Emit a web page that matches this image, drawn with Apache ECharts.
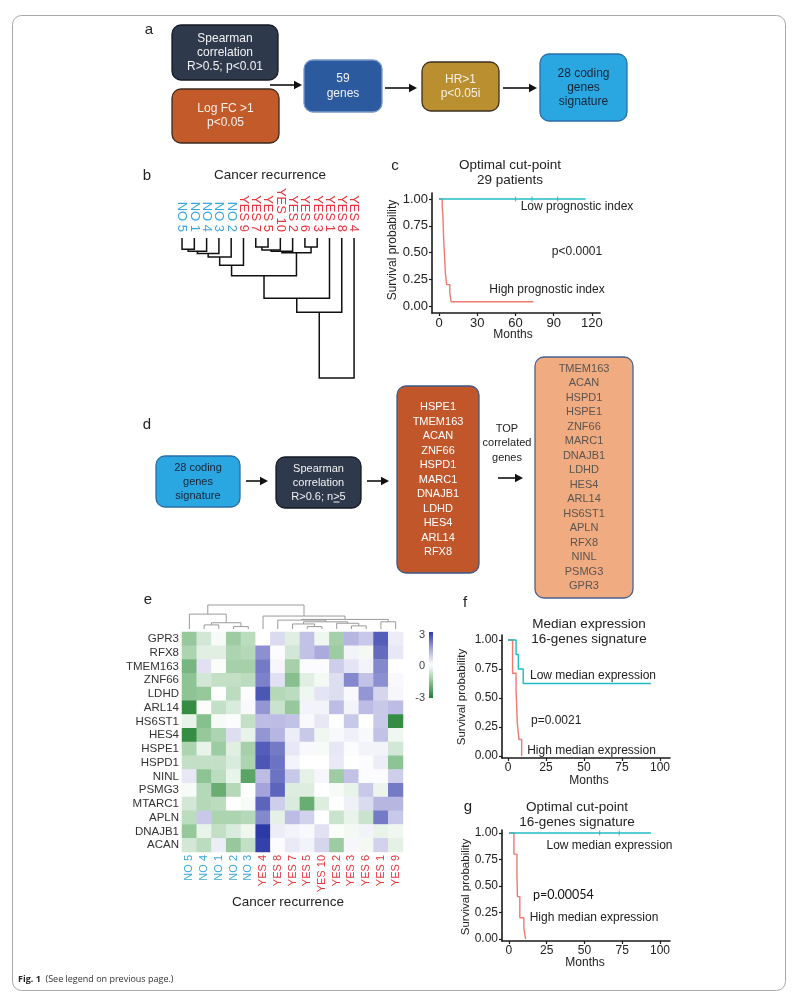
<!DOCTYPE html>
<html>
<head>
<meta charset="utf-8">
<script src="https://cdn.jsdelivr.net/npm/echarts@6/dist/echarts.min.js"></script>
<style>html,body{margin:0;padding:0;background:#fff}#c{width:796px;height:1003px}</style>
</head>
<body>
<div id="c"></div>
<script>
const FONT = '"Liberation Sans", Arial, Helvetica, sans-serif';

// ---------- Panel b: dendrogram of patients ----------
const dendroBLeaves = ['NO 5','NO 1','NO 4','NO 3','NO 2','YES 9','YES 7','YES 5','YES 10','YES 2','YES 6','YES 3','YES 1','YES 8','YES 4'];
// [left, right, height]; numbers refer to earlier merges
const dendroBMerges = [
  ['NO 5','NO 1',0.8],
  [0,'NO 4',0.95],
  [1,'NO 3',1.1],
  [2,'NO 2',1.35],
  ['YES 7','YES 5',0.65],
  [4,'YES 10',0.85],
  ['YES 6','YES 3',0.65],
  [5,'YES 2',0.95],
  [7,6,1.05],
  [3,'YES 9',1.95],
  [9,8,2.7],
  [10,'YES 1',4.3],
  [11,'YES 8',5.3],
  [12,'YES 4',10]
];

// ---------- Panel c: KM, optimal cut-point, 29 patients ----------
const kmCTicks = [0,30,60,90,120];
const survTicks = [0,0.25,0.5,0.75,1];
const kmCLow = [[0,1],[115,1]];
const kmCLowCensor = [[60,1],[73,1],[93,1]];
const kmCHigh = [[0,1],[2.5,0.93],[3,0.85],[3.3,0.75],[3.7,0.62],[4.2,0.5],[4.6,0.4],[5,0.31],[6,0.2],[8.5,0.12],[9.5,0.04],[74,0.04]];

// ---------- Panel d: gene lists ----------
const corrGenes = ['HSPE1','TMEM163','ACAN','ZNF66','HSPD1','MARC1','DNAJB1','LDHD','HES4','ARL14','RFX8'];
const topGenes = ['TMEM163','ACAN','HSPD1','HSPE1','ZNF66','MARC1','DNAJB1','LDHD','HES4','ARL14','HS6ST1','APLN','RFX8','NINL','PSMG3','GPR3'];

// ---------- Panel e: heatmap ----------
const heatGenes = ['GPR3','RFX8','TMEM163','ZNF66','LDHD','ARL14','HS6ST1','HES4','HSPE1','HSPD1','NINL','PSMG3','MTARC1','APLN','DNAJB1','ACAN'];
const heatSamples = ['NO 5','NO 4','NO 1','NO 2','NO 3','YES 4','YES 8','YES 7','YES 5','YES 10','YES 2','YES 3','YES 6','YES 1','YES 9'];
const heatValues = [
  [-1.4,-0.6,-0.1,-1.3,-0.9, 0.0, 0.6,-0.4, 1.0,-0.2,-1.2, 1.2, 0.9, 2.5, 0.3],
  [-1.1,-0.4,-0.4,-1.1,-1.0, 1.8, 0.05,-0.6,1.0, 1.4,-1.3, 0.2,-0.15,2.3, 0.4],
  [-1.8, 0.5,-0.05,-1.2,-1.2,2.1, 0.15,-1.2,0.05,0.05,0.8,0.45,0.2, 1.9, 0.0],
  [-1.5,-0.6,-0.8,-0.8,-0.9, 2.0, 0.5,-1.6,-0.4,-0.15,0.55,1.9, 1.0, 1.8, 0.1],
  [-1.5,-1.4, 0.0,-0.9, 0.05,2.6,-1.0,-0.9,-0.2, 0.45,0.55,0.1, 1.7, 0.7, 0.15],
  [-2.7,-0.05,-0.8,-0.5,0.1, 1.7,-0.7,-1.4, 0.2, 0.2, 1.1, 0.2, 1.1, 0.9, 1.1],
  [-0.3,-1.6,-0.1, 0.05,-0.8,1.1, 1.1, 1.0, 0.1, 0.4, 0.0, 0.9, 0.0, 0.9,-2.7],
  [-2.7,-1.4,-1.1, 0.55,-0.3,1.7, 1.2, 0.3, 0.9,-0.2, 0.1, 0.25,0.1, 1.0,-0.2],
  [-1.1,-0.3,-1.3,-0.4,-1.2, 2.5, 2.1, 0.4, 0.1,-0.1, 0.4, 0.05,0.2, 0.2,-0.6],
  [-0.8,-0.8,-0.8,-0.5,-1.1, 2.6, 2.2, 0.2, 0.0, 0.0, 0.35,0.0, 0.05,0.3,-1.5],
  [ 0.4,-1.5,-0.9,-0.3,-2.2, 1.1, 2.2, 0.9,-0.35,0.15,-1.3,1.0, 0.05,0.05,0.8],
  [-0.1,-1.0,-2.0,-1.0, 0.0, 1.5, 2.4,-0.45,-0.45,0.0,-0.1,-0.3,0.9,-0.25,2.1],
  [-0.6,-1.0,-0.9, 0.0,-0.1, 2.4, 0.8,-0.5,-2.0,-0.45,0.0,0.25,0.6, 1.2, 1.2],
  [-0.9, 0.9,-1.1,-1.1,-1.0, 1.9,-0.35,1.1, 0.75,0.0,-0.7,-0.3,-0.7, 2.1, 0.9],
  [-1.4,-0.3,-0.8,-0.5,-0.2, 3.0, 0.3, 0.2, 0.1, 0.5,-0.05,-0.15,0.2,-0.3,-0.2],
  [-0.6,-0.9, 0.3,-1.4,-0.8, 2.9, 0.05,0.35,0.2, 0.7,-1.3, 0.15,-0.15,0.75,-0.35]
];
const heatColors = ['#1f7f30','#8ec495','#ffffff','#a4a4da','#2c3aa8'];
const dendroEMerges = [
  ['NO 4','NO 1',1.7],
  ['NO 2','NO 3',1.0],
  [0,1,2.6],
  ['NO 5',2,6.2],
  ['YES 3','YES 6',1.3],
  ['YES 2',4,2.4],
  ['YES 5','YES 10',1.0],
  ['YES 7',6,2.1],
  [7,5,3.0],
  ['YES 8',8,3.7],
  ['YES 1','YES 9',3.0],
  [9,10,4.0],
  ['YES 4',11,5.4],
  [3,12,10]
];

// ---------- Panel f / g: KM with 16-genes signature ----------
const kmFGTicks = [0,25,50,75,100];
const kmFLow = [[0,1],[5.3,0.875],[6.8,0.75],[10,0.625],[94,0.625]];
const kmFHigh = [[0,1],[3,0.714],[5.3,0.571],[5.7,0.429],[6.1,0.286],[7.2,0.143],[9,0]];
const kmGLow = [[0,1],[94,1]];
const kmGLowCensor = [[60,1],[73,1]];
const kmGHigh = [[0,1],[3.3,0.8],[5.3,0.6],[5.6,0.4],[7.2,0.2],[9.9,0.1],[11,0]];

const TEAL = '#1fbcc4', SALMON = '#f07a70';
const NO_C = '#3aa6de', YES_C = '#e6363c';

// ---------- helpers ----------
function dendroSegments(leaves, merges){
  const pos = [], hgt = [], segs = [];
  const P = r => typeof r === 'string' ? leaves.indexOf(r) : pos[r];
  const H = r => typeof r === 'string' ? 0 : hgt[r];
  merges.forEach((m,i) => {
    const [a,b,h] = m;
    segs.push([P(a),H(a),P(b),H(b),h]);
    pos[i] = (P(a)+P(b))/2; hgt[i] = h;
  });
  return segs;
}
function dendroItem(color, width){
  return function(params, api){
    const p1 = api.coord([api.value(0), api.value(1)]);
    const p1m = api.coord([api.value(0), api.value(4)]);
    const p2m = api.coord([api.value(2), api.value(4)]);
    const p2 = api.coord([api.value(2), api.value(3)]);
    return {type:'polyline', shape:{points:[p1,p1m,p2m,p2]}, style:{stroke:color, lineWidth:width, fill:null}};
  };
}
function labelColor(name){ return name.indexOf('NO') === 0 ? NO_C : YES_C; }
function kmX(gi,min,max,ticks,fs){
  return {type:'value',gridIndex:gi,min,max,
    axisLine:{show:true,onZero:false,lineStyle:{color:'#1a1a1a',width:1.6}},
    axisTick:{show:true,customValues:ticks,length:3,lineStyle:{color:'#1a1a1a',width:1.2}},
    axisLabel:{customValues:ticks,fontSize:fs,color:'#222',margin:4,fontFamily:FONT},
    splitLine:{show:false}};
}
function kmY(gi,min,max,fs){
  return {type:'value',gridIndex:gi,min,max,
    axisLine:{show:true,onZero:false,lineStyle:{color:'#1a1a1a',width:1.6}},
    axisTick:{show:true,customValues:survTicks,length:3,lineStyle:{color:'#1a1a1a',width:1.2}},
    axisLabel:{customValues:survTicks,fontSize:fs,color:'#222',margin:4,fontFamily:FONT,formatter:v=>Number(v).toFixed(2)},
    splitLine:{show:false}};
}
function km(xi,yi,data,color,z){
  return {type:'line',xAxisIndex:xi,yAxisIndex:yi,data,step:'end',symbol:'none',showSymbol:false,
    lineStyle:{color,width:1.4},silent:true,z,animation:false};
}
function censor(xi,yi,data,color){
  return {type:'scatter',xAxisIndex:xi,yAxisIndex:yi,data,symbol:'rect',symbolSize:[1.2,5],
    itemStyle:{color},silent:true,z:5,animation:false};
}
function T(x,y,text,o){
  o = o || {};
  return {type:'text',x,y,silent:true,rotation:o.rot||0,z:10,
    style:{text,fill:o.color||'#222',fontSize:o.fs||12,fontFamily:o.ff||FONT,fontWeight:o.fw||'normal',
      align:o.align||'center',verticalAlign:'middle',lineHeight:o.lh||undefined}};
}
function box(x,y,w,h,fill,stroke,text,color,fs,lh){
  return [
    {type:'rect',silent:true,z:5,shape:{x,y,width:w,height:h,r:9},style:{fill,stroke,lineWidth:1.3}},
    T(x+w/2,y+h/2,text,{color,fs,lh})
  ];
}
function arrow(x1,y,x2){
  return [
    {type:'line',silent:true,z:5,shape:{x1,y1:y,x2:x2-6,y2:y},style:{stroke:'#111',lineWidth:1.6}},
    {type:'polygon',silent:true,z:5,shape:{points:[[x2,y],[x2-8,y-4.2],[x2-8,y+4.2]]},style:{fill:'#111'}}
  ];
}

const heatData = [];
heatValues.forEach((row,r) => row.forEach((v,c) => heatData.push([c,r,v])));

const graphics = [].concat(
  [{type:'rect',silent:true,z:0,shape:{x:12.5,y:15.5,width:773,height:975,r:9},style:{fill:'transparent',stroke:'#a8a8a8',lineWidth:1}}],
  // panel letters
  [T(149,30,'a',{fs:15}),T(147,176,'b',{fs:15}),T(395,166,'c',{fs:15}),T(147,425,'d',{fs:15}),
   T(148,600,'e',{fs:15}),T(465,603,'f',{fs:15}),T(468,807,'g',{fs:15})],
  // panel a
  box(172,25,106,55,'#2e3a4c','#151a22','Spearman\ncorrelation\nR>0.5; p<0.01','#f2f2f2',12,14),
  box(172,89,107,54,'#c25a2a','#3a2a20','Log FC >1\np<0.05','#f6f0ea',12,14),
  arrow(270,85,302),
  box(304,60,78,52,'#2b5a9e','#7a98c8','59\ngenes','#f2f2f2',12,14.5),
  arrow(385,88,417),
  box(422,62,77,49,'#b98f30','#3a3020','HR>1\np<0.05i','#f4f0e6',12,14.5),
  arrow(503,88,537),
  box(540,54,87,67,'#2aa7e1','#2a6ea8','28 coding\ngenes\nsignature','#172436',12,14),
  // panel b
  [T(270,175,'Cancer recurrence',{fs:13.5})],
  // panel c
  [T(510,172.5,'Optimal cut-point\n29 patients',{fs:13.5,lh:15}),
   T(393,250,'Survival probability',{fs:12,rot:Math.PI/2}),
   T(513,335,'Months',{fs:12}),
   T(577,207,'Low prognostic index',{fs:12}),
   T(577,252,'p<0.0001',{fs:12}),
   T(547,290,'High prognostic index',{fs:12})],
  // panel d
  box(156,456,84,51,'#2aa7e1','#2a6ea8','28 coding\ngenes\nsignature','#172436',11,14),
  arrow(246,481,268),
  box(276,457,85,51,'#2e3a4c','#151a22','Spearman\ncorrelation\nR>0.6; n>5','#f2f2f2',11,14),
  [{type:'line',silent:true,z:11,shape:{x1:333.5,y1:502,x2:339.5,y2:502},style:{stroke:'#f2f2f2',lineWidth:1}}],
  arrow(367,481,389),
  box(397,386,82,187,'#c0562a','#3b5a8a',corrGenes.join('\n'),'#ffffff',11,14.5),
  [T(507,443,'TOP\ncorrelated\ngenes',{fs:11,lh:14.5})],
  arrow(498,478,523),
  box(535,357,98,241,'#f0ab80','#4a6090',topGenes.join('\n'),'#5a5550',11,14.47),
  // panel e
  [T(288,902,'Cancer recurrence',{fs:13.5}),
   {type:'rect',silent:true,z:5,shape:{x:429,y:632,width:4,height:66},
    style:{fill:new echarts.graphic.LinearGradient(0,0,0,1,[
      {offset:0,color:heatColors[4]},{offset:0.25,color:heatColors[3]},{offset:0.5,color:heatColors[2]},
      {offset:0.75,color:heatColors[1]},{offset:1,color:heatColors[0]}])}},
   T(425,635,'3',{fs:11,align:'right',color:'#444'}),
   T(425,666,'0',{fs:11,align:'right',color:'#444'}),
   T(425,698,'-3',{fs:11,align:'right',color:'#444'})],
  // panel f
  [T(589,632,'Median expression\n16-genes signature',{fs:13.5,lh:14.5}),
   T(462,697,'Survival probability',{fs:11.5,rot:Math.PI/2}),
   T(589,781,'Months',{fs:12}),
   T(593,676,'Low median expression',{fs:12}),
   T(531,721,'p=0.0021',{fs:12,align:'left'}),
   T(591.5,751,'High median expression',{fs:12})],
  // panel g
  [T(577,814.5,'Optimal cut-point\n16-genes signature',{fs:13.5,lh:15}),
   T(466,887,'Survival probability',{fs:11.5,rot:Math.PI/2}),
   T(585,963,'Months',{fs:12}),
   T(609.5,846,'Low median expression',{fs:12}),
   T(533,895,'p=0.00054',{fs:12.5,align:'left',ff:'Lato, "Open Sans", sans-serif',color:'#111'}),
   T(594,918,'High median expression',{fs:12})],
  // caption
  [{type:'text',x:18,y:979,silent:true,z:10,style:{text:'{b|Fig. 1}  (See legend on previous page.)',
     fontSize:9,fontFamily:'"Open Sans", sans-serif',fill:'#333',verticalAlign:'middle',
     rich:{b:{fontWeight:'bold',fontSize:9,fontFamily:'"Open Sans", sans-serif',fill:'#222'}}}}]
);

const option = {
  animation:false,
  textStyle:{fontFamily:FONT},
  grid:[
    {left:175.9,top:238,width:184.3,height:140},   // 0 dendro b
    {left:432,top:193,width:168,height:120},       // 1 km c
    {left:182,top:632,width:221,height:220},       // 2 heatmap e
    {left:182,top:605,width:221,height:24},        // 3 dendro e
    {left:502,top:635,width:168,height:123},       // 4 km f
    {left:502,top:830,width:168,height:111}        // 5 km g
  ],
  xAxis:[
    {type:'value',gridIndex:0,min:-0.5,max:14.5,show:false},
    {type:'category',gridIndex:0,position:'top',
      data:dendroBLeaves.map(n=>({value:n,textStyle:{color:labelColor(n)}})),
      axisLine:{show:false},axisTick:{show:false},
      axisLabel:{rotate:90,fontSize:13,margin:6,interval:0,fontFamily:FONT}},
    kmX(1,-5.5,126.3,kmCTicks,13),
    {type:'category',gridIndex:2,position:'bottom',
      data:heatSamples.map(n=>({value:n,textStyle:{color:labelColor(n)}})),
      axisLine:{show:false},axisTick:{show:false},
      axisLabel:{rotate:90,fontSize:11,margin:3,interval:0,fontFamily:FONT}},
    {type:'value',gridIndex:3,min:-0.5,max:14.5,show:false},
    kmX(4,-3.95,106.6,kmFGTicks,12),
    kmX(5,-4.6,106.6,kmFGTicks,12)
  ],
  yAxis:[
    {type:'value',gridIndex:0,min:0,max:10,inverse:true,show:false},
    kmY(1,-0.065,1.056,13),
    {type:'category',gridIndex:2,data:heatGenes,inverse:true,
      axisLine:{show:false},axisTick:{show:false},
      axisLabel:{fontSize:11.5,color:'#333',margin:3,interval:0,fontFamily:FONT}},
    {type:'value',gridIndex:3,min:0,max:10,show:false},
    kmY(4,-0.017,1.043,12),
    kmY(5,-0.019,1.028,12)
  ],
  visualMap:[{type:'continuous',show:false,min:-3,max:3,seriesIndex:2,inRange:{color:heatColors}}],
  series:[
    {type:'custom',xAxisIndex:0,yAxisIndex:0,data:dendroSegments(dendroBLeaves,dendroBMerges),
      renderItem:dendroItem('#111',1.5),silent:true,clip:false,animation:false},
    {type:'custom',xAxisIndex:4,yAxisIndex:3,data:dendroSegments(heatSamples,dendroEMerges),
      renderItem:dendroItem('#9a9a9a',1),silent:true,clip:false,animation:false},
    {type:'heatmap',xAxisIndex:3,yAxisIndex:2,data:heatData,silent:true,emphasis:{disabled:true},animation:false},
    km(2,1,kmCHigh,SALMON,3), km(2,1,kmCLow,TEAL,4), censor(2,1,kmCLowCensor,TEAL),
    km(5,4,kmFHigh,SALMON,3), km(5,4,kmFLow,TEAL,4),
    km(6,5,kmGHigh,SALMON,3), km(6,5,kmGLow,TEAL,4), censor(6,5,kmGLowCensor,TEAL)
  ],
  graphic:graphics
};
const chart = echarts.init(document.getElementById('c'));
chart.setOption(option);
</script>
</body>
</html>
